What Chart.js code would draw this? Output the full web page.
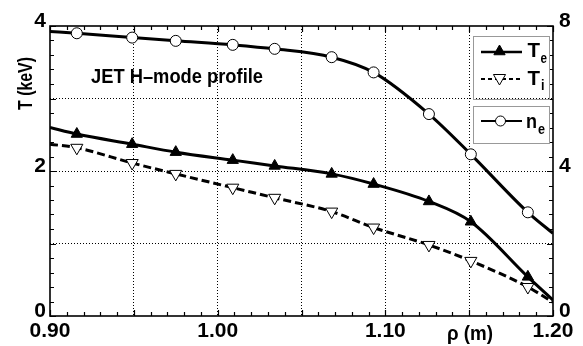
<!DOCTYPE html>
<html><head><meta charset="utf-8">
<script src="https://cdn.jsdelivr.net/npm/chart.js@4.4.1/dist/chart.umd.min.js"></script>
<style>html,body{margin:0;padding:0;background:#fff;}canvas{display:block;}</style>
</head><body>
<canvas id="c" width="583" height="346"></canvas>
<script>
// ---- data ----
const rho = [0.900, 0.916, 0.949, 0.975, 1.009, 1.034, 1.068, 1.093, 1.126, 1.151, 1.185, 1.200];
const Te  = [2.60, 2.51, 2.37, 2.26, 2.15, 2.07, 1.96, 1.82, 1.58, 1.30, 0.54, 0.22];
const Ti  = [2.37, 2.32, 2.11, 1.96, 1.77, 1.63, 1.44, 1.22, 0.98, 0.76, 0.40, 0.19];
const ne  = [7.85, 7.80, 7.68, 7.59, 7.48, 7.37, 7.14, 6.72, 5.57, 4.46, 2.86, 2.28];
const hasMarker = [false, true, true, true, true, true, true, true, true, true, true, false];
const xTickLabels = ['0.90', '1.00', '1.10', '1.20'];
const yLeftTickLabels = ['0', '2', '4'];
const yRightTickLabels = ['0', '4', '8'];
const titleT = 'T (keV)';
const titleRho = 'ρ (m)';
const annotation = 'JET H–mode profile';

const FAM = "'Liberation Sans Narrow','Liberation Sans',Arial,sans-serif";
const pts = arr => rho.map((x, i) => ({x: x, y: arr[i]}));
const radii = r => hasMarker.map(m => m ? r : 0);

function fitText(ctx, text, x, y, w, font, rot) {
  ctx.save();
  ctx.font = font;
  const mw = ctx.measureText(text).width;
  ctx.translate(x, y);
  if (rot) ctx.rotate(rot);
  ctx.scale(w / mw, 1);
  ctx.textAlign = 'left';
  ctx.textBaseline = 'alphabetic';
  ctx.fillStyle = '#000';
  ctx.fillText(text, 0, 0);
  ctx.restore();
}
function tri(ctx, x, y, r, down, fill) {
  ctx.beginPath();
  const s = down ? -1 : 1;
  for (let k = 0; k < 3; k++) {
    const a = k * 2 * Math.PI / 3;
    const px = x + Math.sin(a) * r * s, py = y - Math.cos(a) * r * s;
    if (k === 0) ctx.moveTo(px, py); else ctx.lineTo(px, py);
  }
  ctx.closePath();
  ctx.fillStyle = fill; ctx.fill();
  ctx.lineWidth = 1; ctx.strokeStyle = '#000'; ctx.setLineDash([]); ctx.stroke();
}

const decor = {
  id: 'decor',
  afterDatasetsDraw(chart) {
    const ctx = chart.ctx, a = chart.chartArea;
    const sx = chart.scales.x, sy = chart.scales.y, sy2 = chart.scales.y2;
    ctx.save();
    // frame
    ctx.strokeStyle = '#000'; ctx.lineWidth = 1.6; ctx.setLineDash([]);
    ctx.strokeRect(a.left, a.top, a.right - a.left, a.bottom - a.top);
    // inward ticks
    ctx.lineWidth = 1.2;
    ctx.beginPath();
    for (let i = 0; i <= 30; i++) {
      const px = Math.round(sx.getPixelForValue(0.90 + i * 0.01)) + 0.5;
      const L = (i % 5 === 0) ? 6 : 4;
      ctx.moveTo(px, a.bottom); ctx.lineTo(px, a.bottom - L);
      ctx.moveTo(px, a.top); ctx.lineTo(px, a.top + L);
    }
    for (let i = 0; i <= 20; i++) {
      const py = Math.round(sy.getPixelForValue(i * 0.2)) + 0.5;
      const L = (i % 5 === 0) ? 6 : 4;
      ctx.moveTo(a.left, py); ctx.lineTo(a.left + L, py);
      const py2 = Math.round(sy2.getPixelForValue(i * 0.4)) + 0.5;
      ctx.moveTo(a.right, py2); ctx.lineTo(a.right - L, py2);
    }
    ctx.stroke();
    // titles and annotation
    fitText(ctx, titleT, 32, 110, 53, 'bold 21px ' + FAM, -Math.PI / 2);
    fitText(ctx, titleRho, 447, 340, 46, 'bold 21px ' + FAM, 0);
    fitText(ctx, annotation, 91, 83, 172, 'bold 21px ' + FAM, 0);
    // legend boxes
    ctx.strokeStyle = '#999'; ctx.lineWidth = 1;
    ctx.strokeRect(473.5, 36.5, 76, 63);
    ctx.strokeRect(473.5, 106.5, 76, 37);
    ctx.strokeStyle = '#000';
    // Te
    ctx.lineWidth = 2.5; ctx.setLineDash([]);
    ctx.beginPath(); ctx.moveTo(481, 52); ctx.lineTo(522, 52); ctx.stroke();
    tri(ctx, 499.5, 51.5, 6.5, false, '#000');
    fitText(ctx, 'T', 527.5, 56.5, 12.5, 'bold 21px ' + FAM, 0);
    fitText(ctx, 'e', 540.5, 63, 6.5, 'bold 14px ' + FAM, 0);
    // Ti
    ctx.lineWidth = 2; ctx.setLineDash([4, 3]);
    ctx.beginPath(); ctx.moveTo(481, 79); ctx.lineTo(522, 79); ctx.stroke();
    tri(ctx, 499.5, 78, 7, true, '#fff');
    fitText(ctx, 'T', 527.5, 85, 12.5, 'bold 21px ' + FAM, 0);
    fitText(ctx, 'i', 541, 90, 3.5, 'bold 14px ' + FAM, 0);
    // ne
    ctx.lineWidth = 2; ctx.setLineDash([]);
    ctx.beginPath(); ctx.moveTo(481, 121); ctx.lineTo(522, 121); ctx.stroke();
    ctx.beginPath(); ctx.arc(500.5, 121, 5, 0, 2 * Math.PI);
    ctx.fillStyle = '#fff'; ctx.fill(); ctx.lineWidth = 1; ctx.stroke();
    fitText(ctx, 'n', 526, 128, 11, 'bold 21px ' + FAM, 0);
    fitText(ctx, 'e', 538, 133.5, 7, 'bold 14px ' + FAM, 0);
    ctx.restore();
  }
};

const tickFont = {family: FAM, weight: 'bold', size: 21};
const edge = (v, lo, hi) => Math.abs(v - lo) < 1e-6 || Math.abs(v - hi) < 1e-6;
new Chart(document.getElementById('c'), {
  type: 'line',
  data: {
    datasets: [
      {label: 'Te', data: pts(Te), yAxisID: 'y', borderColor: '#000', borderWidth: 3,
       cubicInterpolationMode: 'monotone', pointStyle: 'triangle', pointRadius: radii(6.5),
       pointBackgroundColor: '#000', pointBorderColor: '#000', pointBorderWidth: 1},
      {label: 'Ti', data: pts(Ti), yAxisID: 'y', borderColor: '#000', borderWidth: 3, borderDash: [8, 4],
       cubicInterpolationMode: 'monotone', pointStyle: 'triangle', pointRotation: 180, pointRadius: radii(7),
       pointBackgroundColor: '#fff', pointBorderColor: '#000', pointBorderWidth: 1},
      {label: 'ne', data: pts(ne), yAxisID: 'y2', borderColor: '#000', borderWidth: 3,
       cubicInterpolationMode: 'monotone', pointStyle: 'circle', pointRadius: radii(5.5),
       pointBackgroundColor: '#fff', pointBorderColor: '#000', pointBorderWidth: 1}
    ]
  },
  options: {
    responsive: false, animation: false, devicePixelRatio: 1,
    layout: {padding: {top: 26, left: 0, right: 0, bottom: 0}},
    plugins: {legend: {display: false}, tooltip: {enabled: false}},
    scales: {
      x: {type: 'linear', min: 0.9, max: 1.2, afterFit: s => { s.height = 30; },
          border: {display: false, dash: [1, 2]},
          grid: {drawTicks: false, color: c => (c.tick && edge(c.tick.value, 0.9, 1.2)) ? 'rgba(0,0,0,0)' : '#000', lineWidth: 1},
          ticks: {stepSize: 0.05, autoSkip: false, maxRotation: 0, padding: 3, color: '#000', font: tickFont,
                  callback: v => { const s = Number(v).toFixed(2); return xTickLabels.includes(s) ? s : ''; }}},
      y: {type: 'linear', position: 'left', min: 0, max: 4, afterFit: s => { s.width = 50; },
          border: {display: false, dash: [1, 2]},
          grid: {drawTicks: false, color: c => (c.tick && edge(c.tick.value, 0, 4)) ? 'rgba(0,0,0,0)' : '#000', lineWidth: 1},
          ticks: {stepSize: 1, padding: 4, labelOffset: -5, color: '#000', font: tickFont,
                  callback: v => { const s = String(Math.round(v)); return (Math.abs(v - Math.round(v)) < 1e-6 && yLeftTickLabels.includes(s)) ? s : ''; }}},
      y2: {type: 'linear', position: 'right', min: 0, max: 8, afterFit: s => { s.width = 30; },
          border: {display: false},
          grid: {drawTicks: false, drawOnChartArea: false},
          ticks: {stepSize: 4, padding: 6, labelOffset: -5, color: '#000', font: tickFont,
                  callback: v => { const s = String(Math.round(v)); return yRightTickLabels.includes(s) ? s : ''; }}}
    }
  },
  plugins: [decor]
});
</script>
</body></html>
